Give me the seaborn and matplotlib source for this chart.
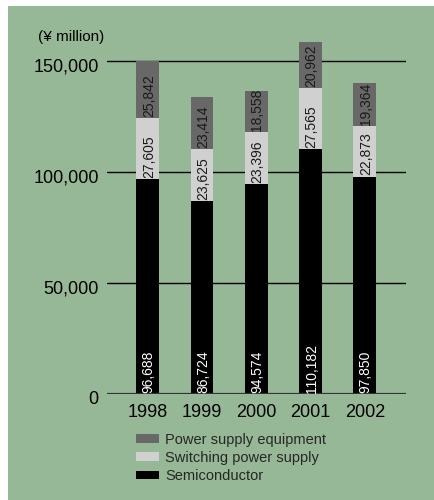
import numpy as np
import pandas as pd
import matplotlib
matplotlib.use("Agg")
import matplotlib.pyplot as plt
import matplotlib.transforms as mtransforms
from matplotlib.patches import Rectangle, Patch
import seaborn as sns

years = ["1998", "1999", "2000", "2001", "2002"]
semiconductor = [96688, 86724, 94574, 110182, 97850]
switching_power = [27605, 23625, 23396, 27565, 22873]
power_equipment = [25842, 23414, 18558, 20962, 19364]
series_names = ["Power supply equipment", "Switching power supply", "Semiconductor"]
y_ticks = [0, 50000, 100000, 150000]
y_tick_labels = ["0", "50,000", "100,000", "150,000"]
unit_label = "(¥ million)"

sns.set_theme(style="white")
plt.rcParams["font.family"] = ["Liberation Sans", "DejaVu Sans"]

BG = "#97b896"
C_EQUIP = "#686868"
C_SWITCH = "#d0d0d0"
C_SEMI = "#000000"

df = pd.DataFrame({
    "year": years,
    "semi": semiconductor,
    "switch": switching_power,
    "equip": power_equipment,
})
df["lvl1"] = df["semi"]
df["lvl2"] = df["semi"] + df["switch"]
df["lvl3"] = df["lvl2"] + df["equip"]

fig = plt.figure(figsize=(4.34, 5.0), dpi=100)
fig.patch.set_facecolor("white")
fig.patches.append(Rectangle((8 / 434, 0), 1 - 8 / 434, 1 - 6 / 500,
                             transform=fig.transFigure, facecolor=BG,
                             edgecolor="none", zorder=-10))

ax = fig.add_axes([107 / 434, 1 - 394 / 500, 299 / 434, 355.2 / 500])
ax.set_facecolor("none")

# stacked bars drawn as overlapping cumulative totals
bw = 0.42
bar_kw = dict(width=bw, saturation=1, ax=ax, zorder=3,
              linewidth=0, edgecolor="none")
sns.barplot(data=df, x="year", y="lvl3", color=C_EQUIP, **bar_kw)
sns.barplot(data=df, x="year", y="lvl2", color=C_SWITCH, **bar_kw)
sns.barplot(data=df, x="year", y="lvl1", color=C_SEMI, **bar_kw)

ax.set_xlim(-0.75, 4.76)
ax.set_ylim(0, 160000)
for s in ax.spines.values():
    s.set_visible(False)

# horizontal rules
for v in y_ticks[1:]:
    ax.axhline(v, color="black", lw=1.0, zorder=1)
ax.axhline(0, color="#333333", lw=1.6, zorder=4)

ax.set_yticks(y_ticks)
ax.set_yticklabels(y_tick_labels, fontsize=13, color="black")
ax.set_xticks(range(len(years)))
ax.set_xticklabels(years, fontsize=13, color="black")
ax.tick_params(axis="y", length=0, pad=6)
ax.tick_params(axis="x", length=0, pad=7)
ax.set_xlabel("")
ax.set_ylabel("")
shift = mtransforms.ScaledTranslation(0, -4 / 100, fig.dpi_scale_trans)
for lab in ax.get_yticklabels():
    lab.set_transform(lab.get_transform() + shift)

# segment value labels, anchored at each segment's base
for i in range(len(years)):
    segs = [
        (0, semiconductor[i], "white"),
        (df["lvl1"][i], switching_power[i], "#1a1a1a"),
        (df["lvl2"][i], power_equipment[i], "#1a1a1a"),
    ]
    for base, val, col in segs:
        ax.annotate(f"{val:,}", xy=(i, base), xytext=(0.8, 1.0),
                    textcoords="offset points", rotation=90,
                    ha="center", va="bottom", fontsize=10, color=col,
                    zorder=6)

fig.text(38 / 434, 1 - 37 / 500, unit_label, fontsize=11, color="black",
         ha="left", va="center")

handles = [Patch(facecolor=C_EQUIP, edgecolor="none"),
           Patch(facecolor=C_SWITCH, edgecolor="none"),
           Patch(facecolor=C_SEMI, edgecolor="none")]
fig.legend(handles, series_names, loc="upper left",
           bbox_to_anchor=(133 / 434, 1 - 430 / 500), frameon=False,
           fontsize=10.5, handlelength=1.6, handleheight=0.55,
           handletextpad=0.4, labelspacing=0.28, borderpad=0.2,
           borderaxespad=0)

fig.savefig("out.png", dpi=100, facecolor=fig.get_facecolor())
